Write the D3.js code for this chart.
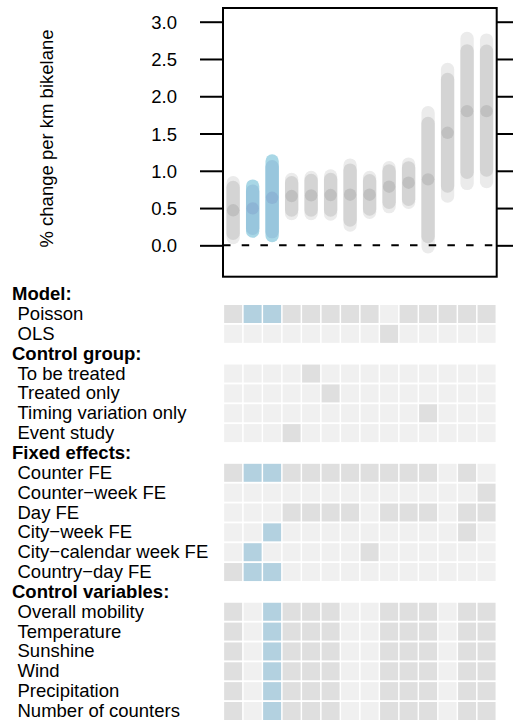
<!DOCTYPE html>
<html>
<head>
<meta charset="utf-8">
<script src="https://cdn.jsdelivr.net/npm/d3@7"></script>
<style>
  html, body { margin: 0; padding: 0; background: #ffffff; }
  svg { display: block; }
  text { font-family: "Liberation Sans", Arial, Helvetica, sans-serif; fill: #000; }
</style>
</head>
<body>
<svg id="chart" width="513" height="722"></svg>
<script>
// ---------------- data ----------------
const specs = d3.range(1, 15);                 // 14 model specifications
const estimate = [0.47, 0.496, 0.638, 0.661, 0.67, 0.675, 0.679, 0.679, 0.786, 0.84, 0.885, 1.51, 1.80, 1.80];
const ci95Low  = [0.103, 0.19, 0.13, 0.425, 0.425, 0.42, 0.272, 0.443, 0.518, 0.577, -0.019, 0.661, 0.83, 0.854];
const ci95High = [0.84, 0.795, 1.131, 0.884, 0.911, 0.93, 1.077, 0.912, 1.041, 1.09, 1.779, 2.36, 2.775, 2.754];
const ci90Low  = [0.16, 0.228, 0.183, 0.473, 0.473, 0.473, 0.339, 0.487, 0.577, 0.617, 0.117, 0.795, 0.98, 1.01];
const ci90High = [0.777, 0.728, 1.054, 0.84, 0.871, 0.884, 1.01, 0.867, 0.997, 1.04, 1.635, 2.225, 2.61, 2.606];
const highlighted = [0, 1, 1, 0, 0, 0, 0, 0, 0, 0, 0, 0, 0, 0];

const yTicks = [0, 0.5, 1, 1.5, 2, 2.5, 3];
const yTickLabels = ["0.0", "0.5", "1.0", "1.5", "2.0", "2.5", "3.0"];
const yTitle = "% change per km bikelane";

const groupHeaders = ["Model:", "Control group:", "Fixed effects:", "Control variables:"];
const rowLabels = [
  "Model:", "Poisson", "OLS",
  "Control group:", "To be treated", "Treated only", "Timing variation only", "Event study",
  "Fixed effects:", "Counter FE", "Counter\u2212week FE", "Day FE", "City\u2212week FE", "City\u2212calendar week FE", "Country\u2212day FE",
  "Control variables:", "Overall mobility", "Temperature", "Sunshine", "Wind", "Precipitation", "Number of counters"
];
const controls = [1,0,1,1,1,1,0,0,1,1,1,0,1,1];
const rowValues = [
  null,
  [1,1,1,1,1,1,1,1,0,1,1,1,1,1],
  [0,0,0,0,0,0,0,0,1,0,0,0,0,0],
  null,
  [0,0,0,0,1,0,0,0,0,0,0,0,0,0],
  [0,0,0,0,0,1,0,0,0,0,0,0,0,0],
  [0,0,0,0,0,0,0,0,0,0,1,0,0,0],
  [0,0,0,1,0,0,0,0,0,0,0,0,0,0],
  null,
  [1,1,1,1,1,1,1,1,1,1,1,0,1,0],
  [0,0,0,0,0,0,0,0,0,0,0,0,0,1],
  [0,0,0,1,1,1,1,0,1,1,1,0,1,1],
  [0,0,1,0,0,0,0,0,0,0,0,0,1,0],
  [0,1,0,0,0,0,0,1,0,0,0,0,0,0],
  [1,1,1,0,0,0,0,0,0,0,0,0,0,0],
  null,
  controls, controls, controls, controls, controls, controls
];

// ---------------- layout ----------------
const svg = d3.select("#chart");
const box = { left: 223, right: 496.7, top: 8, bottom: 276.7 };
const fs = 18.5;

const x = d3.scaleLinear().domain([0.48, 14.52]).range([box.left, box.right]);
const y = d3.scaleLinear().domain([-0.421, 3.184]).range([box.bottom, box.top]);
const rowY = d3.scaleLinear().domain([0, 21]).range([294.15, 711]);

const col = {
  outer: "#ebebeb", inner: "#d4d4d4", dot: "#c0c0c0",
  bOuter: "#a8d7e6", bInner: "#98c6dd", bDot: "#8db5d5",
  cellOn: "#dfdfdf", cellOff: "#f0f0f0", cellHi: "#b3d1e0"
};
const lw = 13.3;

// ---------------- coefficient plot ----------------
const bars = svg.append("g");
specs.forEach((s, i) => {
  const hi = highlighted[i] === 1;
  bars.append("line")
    .attr("x1", x(s)).attr("x2", x(s))
    .attr("y1", y(ci95Low[i])).attr("y2", y(ci95High[i]))
    .attr("stroke", hi ? col.bOuter : col.outer)
    .attr("stroke-width", lw).attr("stroke-linecap", "round");
  bars.append("line")
    .attr("x1", x(s)).attr("x2", x(s))
    .attr("y1", y(ci90Low[i])).attr("y2", y(ci90High[i]))
    .attr("stroke", hi ? col.bInner : col.inner)
    .attr("stroke-width", lw).attr("stroke-linecap", "round");
  bars.append("circle")
    .attr("cx", x(s)).attr("cy", y(estimate[i])).attr("r", 6.2)
    .attr("fill", hi ? col.bDot : col.dot);
});

// zero line
svg.append("line")
  .attr("x1", box.left).attr("x2", box.right)
  .attr("y1", y(0)).attr("y2", y(0))
  .attr("stroke", "#000").attr("stroke-width", 2)
  .attr("stroke-dasharray", "7.5,11.2");

// box
svg.append("rect")
  .attr("x", box.left).attr("y", box.top)
  .attr("width", box.right - box.left).attr("height", box.bottom - box.top)
  .attr("fill", "none").attr("stroke", "#000").attr("stroke-width", 2);

// ticks left and right
const leftAxis = d3.axisLeft(y).tickValues(yTicks).tickSize(23).tickFormat((d, i) => yTickLabels[i]).tickPadding(23);
const gL = svg.append("g").attr("transform", `translate(${box.left},0)`).call(leftAxis);
gL.select(".domain").remove();
gL.selectAll(".tick line").attr("stroke", "#000").attr("stroke-width", 2);
gL.selectAll(".tick text").attr("font-size", fs).attr("font-family", "Liberation Sans, Arial, sans-serif").attr("x", -46).attr("dy", "0.35em");

const rightAxis = d3.axisRight(y).tickValues(yTicks).tickSize(23).tickFormat("");
const gR = svg.append("g").attr("transform", `translate(${box.right},0)`).call(rightAxis);
gR.select(".domain").remove();
gR.selectAll(".tick line").attr("stroke", "#000").attr("stroke-width", 2);

// y title
svg.append("text")
  .attr("transform", `translate(53,138.5) rotate(-90)`)
  .attr("text-anchor", "middle")
  .attr("font-size", fs)
  .text(yTitle);

// ---------------- specification grid ----------------
const grid = svg.append("g");
rowLabels.forEach((lab, r) => {
  const isHeader = groupHeaders.includes(lab);
  grid.append("text")
    .attr("x", isHeader ? 12 : 17.5)
    .attr("y", rowY(r) + 6)
    .attr("font-size", fs)
    .attr("font-weight", isHeader ? "bold" : "normal")
    .text(lab);
  const vals = rowValues[r];
  if (!vals) return;
  specs.forEach((s, i) => {
    const on = vals[i] === 1;
    grid.append("rect")
      .attr("x", x(s) - 9).attr("y", rowY(r) - 9)
      .attr("width", 18).attr("height", 18)
      .attr("fill", on ? (highlighted[i] ? col.cellHi : col.cellOn) : col.cellOff);
  });
});
</script>
</body>
</html>
